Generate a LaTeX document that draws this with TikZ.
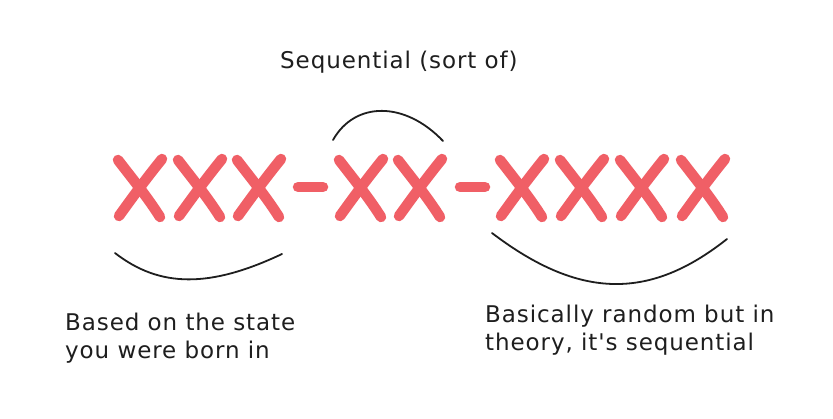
\documentclass[tikz,border=0pt]{standalone}
\usepackage{fontspec}
\setmainfont{DejaVu Sans}
\newfontfamily\handfont[LetterSpace=4]{DejaVu Sans}
\definecolor{xred}{RGB}{240,95,102}
\definecolor{ink}{RGB}{30,30,30}
\begin{document}
\begin{tikzpicture}[x=1pt,y=-1pt,
  xstroke/.style={draw=xred,line width=10.5pt,line cap=round},
  brace/.style={draw=ink,line width=1.8pt,line cap=round},
  label/.style={text=ink,font=\handfont\fontsize{23}{28}\selectfont,align=left,inner sep=0pt,anchor=base west}]
\useasboundingbox[fill=white] (0,0) rectangle (833,418);
% X letters
\foreach \cx in {140,200,259,361,420,522,582,642,703}{
  \draw[xstroke] (\cx-22,160) .. controls (\cx-5,182) and (\cx+8,198) .. (\cx+20,217);
  \draw[xstroke] (\cx+22,159) .. controls (\cx+5,180) and (\cx-8,198) .. (\cx-21,216);
}
% dashes
\draw[xstroke] (298,187) -- (323,187);
\draw[xstroke] (460,187) -- (485,187);
% braces
\coordinate (l1) at (115,253); \coordinate (l2) at (282,254);
\draw[brace] (l1) .. controls (160,288) and (210,288) .. (l2);
\coordinate (t1) at (333,140); \coordinate (t2) at (443,141);
\draw[brace] (t1) .. controls (355,101) and (405,101) .. (t2);
\coordinate (r1) at (492,233); \coordinate (r2) at (727,239);
\draw[brace] (r1) .. controls (580,300) and (650,300) .. (r2);
% labels
\node[label] (top) at (280,68) {Sequential (sort of)};
\node[label] (left) at (65,358) {Based on the state\\you were born in};
\node[label] (right) at (485,350) {Basically random but in\\theory, it's sequential};
\end{tikzpicture}
\end{document}
